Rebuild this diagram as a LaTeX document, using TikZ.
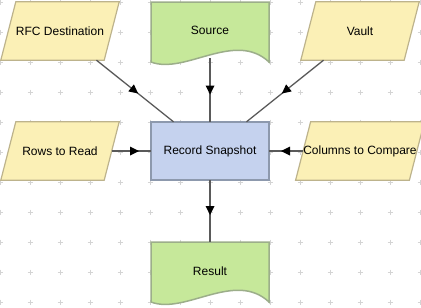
\documentclass[tikz,border=0pt]{standalone}
\usepackage{fontspec}
\setmainfont{Liberation Sans}
\usetikzlibrary{backgrounds,decorations.markings}
\definecolor{yfill}{HTML}{FBF0B6}
\definecolor{ydraw}{HTML}{BDB38C}
\definecolor{gfill}{HTML}{C6E89A}
\definecolor{gdraw}{HTML}{9CAE8A}
\definecolor{bfill}{HTML}{C5D2EE}
\definecolor{bdraw}{HTML}{8D99AD}
\definecolor{gridc}{HTML}{D4D4D4}
\definecolor{linec}{HTML}{5A5A5A}
\begin{document}
\begin{tikzpicture}[x=1pt,y=-1pt,
  txt/.style={inner sep=0pt, font=\fontsize{12}{14}\selectfont},
  para/.style={txt, minimum width=103pt, minimum height=58pt},
  docu/.style={txt, minimum width=118pt},
  procbox/.style={txt, minimum width=118pt, minimum height=58pt},
  parashape/.style={fill=yfill, draw=ydraw, line width=1.2pt},
  docshape/.style={fill=gfill, draw=gdraw, line width=1.5pt},
  boxshape/.style={fill=bfill, draw=bdraw, line width=1.6pt},
  conn/.style={draw=linec, line width=1.3pt},
  midarrow/.style={decoration={markings, mark=at position 0.5 with {\fill[black] (-5pt,-4.5pt) -- (4pt,0pt) -- (-5pt,4.5pt) -- cycle;}}, postaction={decorate}}
]
\useasboundingbox (0,0) rectangle (421,308);
% nodes
\node[para] (rfc) at (60,31) {RFC Destination};
\node[docu, minimum height=56pt] (src) at (210,30) {Source};
\node[para] (vault) at (360,31) {Vault};
\node[para] (rows) at (60,151) {Rows to Read};
\node[procbox] (rec) at (210,151) {Record Snapshot};
\node[para] (cols) at (360,151) {Columns to Compare};
\node[docu, minimum height=58pt] (res) at (210,271) {Result};
\begin{pgfonlayer}{background}
  \foreach \x in {0,30,...,420}
    \foreach \y in {2,32,...,302}
      \draw[gridc, line width=0.7pt] (\x-2.5,\y) -- (\x+2.5,\y) (\x,\y-2.5) -- (\x,\y+2.5);
  \foreach \n in {rfc,vault,rows,cols}
    \draw[parashape] ([xshift=7.5pt]\n.north west) -- ([xshift=7.5pt]\n.north east)
      -- ([xshift=-7.5pt]\n.south east) -- ([xshift=-7.5pt]\n.south west) -- cycle;
  \draw[docshape] (151,2) -- (269,2) -- (269,62) .. controls (235,30) and (185,75) .. (151,62) -- cycle;
  \draw[docshape] (151,242) -- (269,242) -- (269,302) .. controls (235,270) and (185,315) .. (151,302) -- cycle;
  \draw[boxshape] (rec.north west) rectangle (rec.south east);
\end{pgfonlayer}
% connectors
\draw[conn] (rfc) -- (rec);
\draw[conn] (src) -- (rec);
\draw[conn] (vault) -- (rec);
\draw[conn] (rows) -- (rec);
\draw[conn] (cols) -- (rec);
\draw[conn] (rec) -- (res);
\path[midarrow] (rfc.center) -- (rec.center);
\path[midarrow] (src.center) -- (rec.center);
\path[midarrow] (vault.center) -- (rec.center);
\path[midarrow] (rows.center) -- (rec.center);
\path[midarrow] (cols.center) -- (rec.center);
\path[midarrow] (rec.center) -- (res.center);
\end{tikzpicture}
\end{document}
